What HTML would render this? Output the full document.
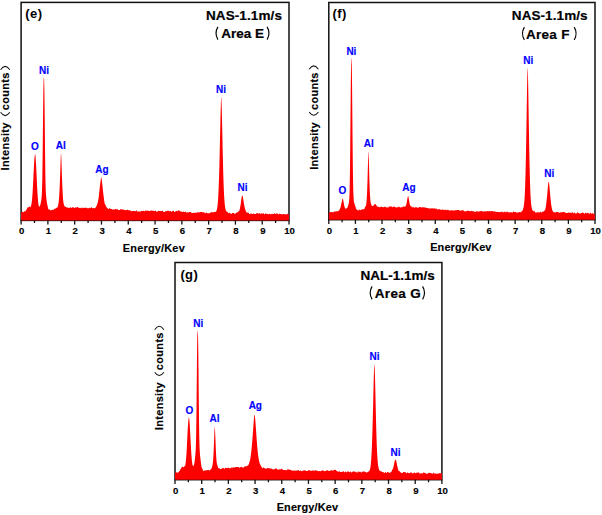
<!DOCTYPE html>
<html><head><meta charset="utf-8"><style>
html,body{margin:0;padding:0;background:#fff;}
svg{display:block;}
text{font-family:"Liberation Sans", sans-serif;font-weight:bold;fill:#000;stroke:#000;stroke-width:0.15px;}
.tk{font-size:9.6px;}
.xl{font-size:10.9px;}
.yl{font-size:11px;}
.pl{font-size:13px;stroke-width:0;letter-spacing:0.4px;}
.tt{font-size:13.5px;stroke-width:0.2px;}
.pk{font-size:10px;fill:#0000ff;stroke:#0000ff;}
</style></head><body>
<svg width="602" height="515" viewBox="0 0 602 515">
<rect width="602" height="515" fill="#fff"/>
<rect x="21.10" y="2.40" width="267.90" height="218.00" fill="none" stroke="#111" stroke-width="1.5"/>
<path d="M21.10,220.40 L21.10,212.09 L21.35,212.07 L21.60,212.06 L21.85,212.04 L22.10,211.81 L22.35,211.79 L22.60,211.77 L22.85,211.74 L23.10,212.31 L23.35,212.27 L23.60,212.22 L23.85,212.16 L24.10,211.39 L24.35,211.29 L24.60,211.17 L24.85,211.02 L25.10,211.39 L25.35,211.18 L25.60,210.92 L25.85,210.64 L26.10,210.11 L26.35,209.76 L26.60,209.39 L26.85,209.00 L27.10,208.25 L27.35,207.87 L27.60,207.53 L27.85,207.22 L28.10,207.50 L28.35,207.30 L28.60,207.17 L28.85,207.09 L29.10,206.51 L29.35,206.54 L29.60,206.60 L29.85,206.66 L30.10,207.16 L30.35,207.11 L30.60,206.94 L30.85,206.58 L31.10,205.53 L31.35,204.58 L31.60,203.21 L31.85,201.34 L32.10,198.92 L32.35,195.85 L32.60,192.14 L32.85,187.83 L33.10,183.41 L33.35,178.24 L33.60,172.94 L33.85,167.78 L34.10,163.55 L34.35,159.59 L34.60,156.66 L34.85,154.96 L35.10,153.79 L35.35,154.84 L35.60,157.21 L35.85,160.70 L36.10,165.20 L36.35,170.17 L36.60,175.42 L36.85,180.67 L37.10,186.16 L37.35,190.73 L37.60,194.74 L37.85,198.13 L38.10,201.27 L38.35,203.42 L38.60,205.01 L38.85,206.11 L39.10,206.35 L39.35,206.65 L39.60,206.62 L39.85,206.29 L40.10,205.48 L40.35,204.63 L40.60,203.52 L40.85,202.17 L41.10,201.29 L41.35,199.48 L41.60,197.31 L41.85,194.17 L42.10,187.45 L42.35,176.87 L42.60,159.25 L42.85,135.44 L43.10,111.22 L43.35,91.08 L43.60,80.02 L43.85,77.29 L44.10,78.39 L44.35,87.84 L44.60,106.62 L44.85,131.41 L45.10,155.74 L45.35,174.64 L45.60,186.37 L45.85,192.69 L46.10,196.12 L46.35,198.47 L46.60,200.40 L46.85,202.10 L47.10,203.83 L47.35,205.12 L47.60,206.21 L47.85,207.11 L48.10,208.45 L48.35,209.02 L48.60,209.45 L48.85,209.78 L49.10,209.26 L49.35,209.44 L49.60,209.56 L49.85,209.64 L50.10,210.16 L50.35,210.17 L50.60,210.16 L50.85,210.15 L51.10,210.19 L51.35,210.16 L51.60,210.13 L51.85,210.10 L52.10,209.74 L52.35,209.71 L52.60,209.67 L52.85,209.63 L53.10,209.80 L53.35,209.75 L53.60,209.71 L53.85,209.65 L54.10,209.01 L54.35,208.95 L54.60,208.87 L54.85,208.79 L55.10,208.69 L55.35,208.57 L55.60,208.44 L55.85,208.29 L56.10,208.28 L56.35,208.08 L56.60,207.84 L56.85,207.57 L57.10,207.81 L57.35,207.42 L57.60,206.94 L57.85,206.33 L58.10,205.22 L58.35,204.12 L58.60,202.63 L58.85,200.57 L59.10,197.62 L59.35,193.86 L59.60,188.99 L59.85,182.95 L60.10,176.16 L60.35,168.39 L60.60,160.76 L60.85,154.62 L61.10,153.09 L61.35,158.17 L61.60,165.41 L61.85,173.17 L62.10,180.31 L62.35,186.66 L62.60,191.85 L62.85,195.89 L63.10,199.51 L63.35,201.73 L63.60,203.32 L63.85,204.45 L64.10,205.27 L64.35,205.75 L64.60,206.19 L64.85,206.53 L65.10,206.80 L65.35,206.47 L65.60,206.64 L65.85,206.78 L66.10,206.89 L66.35,207.37 L66.60,207.43 L66.85,207.47 L67.10,207.50 L67.35,207.46 L67.60,207.46 L67.85,207.46 L68.10,207.46 L68.35,207.90 L68.60,207.92 L68.85,207.93 L69.10,207.95 L69.35,207.78 L69.60,207.79 L69.85,207.79 L70.10,207.80 L70.35,207.27 L70.60,207.28 L70.85,207.28 L71.10,207.29 L71.35,208.12 L71.60,208.12 L71.85,208.13 L72.10,208.13 L72.35,207.10 L72.60,207.10 L72.85,207.11 L73.10,207.11 L73.35,207.47 L73.60,207.48 L73.85,207.48 L74.10,207.48 L74.35,207.90 L74.60,207.90 L74.85,207.90 L75.10,207.91 L75.35,207.18 L75.60,207.19 L75.85,207.19 L76.10,207.19 L76.35,207.60 L76.60,207.60 L76.85,207.61 L77.10,207.61 L77.35,207.07 L77.60,207.08 L77.85,207.08 L78.10,207.08 L78.35,207.84 L78.60,207.85 L78.85,207.85 L79.10,207.85 L79.35,207.97 L79.60,207.98 L79.85,207.98 L80.10,207.98 L80.35,207.76 L80.60,207.76 L80.85,207.76 L81.10,207.77 L81.35,208.13 L81.60,208.14 L81.85,208.14 L82.10,208.14 L82.35,207.47 L82.60,207.48 L82.85,207.48 L83.10,207.48 L83.35,207.94 L83.60,207.95 L83.85,207.95 L84.10,207.95 L84.35,207.84 L84.60,207.84 L84.85,207.84 L85.10,207.85 L85.35,207.83 L85.60,207.84 L85.85,207.84 L86.10,207.69 L86.35,207.70 L86.60,207.70 L86.85,207.70 L87.10,208.17 L87.35,208.17 L87.60,208.18 L87.85,208.18 L88.10,208.31 L88.35,208.31 L88.60,208.31 L88.85,208.32 L89.10,207.76 L89.35,207.76 L89.60,207.76 L89.85,207.77 L90.10,208.00 L90.35,208.01 L90.60,208.02 L90.85,208.03 L91.10,207.32 L91.35,207.33 L91.60,207.34 L91.85,207.35 L92.10,208.12 L92.35,208.13 L92.60,208.13 L92.85,208.13 L93.10,208.06 L93.35,208.06 L93.60,208.04 L93.85,208.02 L94.10,208.40 L94.35,208.36 L94.60,208.29 L94.85,208.21 L95.10,207.90 L95.35,207.76 L95.60,207.59 L95.85,207.36 L96.10,206.44 L96.35,206.09 L96.60,205.66 L96.85,205.14 L97.10,204.62 L97.35,203.86 L97.60,202.95 L97.85,201.88 L98.10,200.98 L98.35,199.55 L98.60,197.93 L98.85,196.12 L99.10,193.36 L99.35,191.20 L99.60,188.93 L99.85,186.57 L100.10,184.74 L100.35,182.46 L100.60,180.39 L100.85,178.67 L101.10,177.18 L101.35,177.36 L101.60,178.66 L101.85,180.49 L102.10,182.58 L102.35,184.91 L102.60,187.30 L102.85,189.67 L103.10,191.88 L103.35,194.03 L103.60,196.01 L103.85,197.80 L104.10,200.26 L104.35,201.67 L104.60,202.91 L104.85,203.97 L105.10,204.10 L105.35,204.86 L105.60,205.50 L105.85,206.03 L106.10,206.61 L106.35,206.97 L106.60,207.26 L106.85,207.50 L107.10,207.87 L107.35,208.02 L107.60,208.15 L107.85,208.25 L108.10,208.91 L108.35,208.98 L108.60,209.03 L108.85,209.08 L109.10,208.17 L109.35,208.20 L109.60,208.23 L109.85,208.25 L110.10,208.72 L110.35,208.75 L110.60,208.77 L110.85,208.80 L111.10,208.94 L111.35,208.96 L111.60,208.98 L111.85,209.00 L112.10,209.43 L112.35,209.45 L112.60,209.47 L112.85,209.49 L113.10,209.43 L113.35,209.45 L113.60,209.47 L113.85,209.49 L114.10,209.56 L114.35,209.58 L114.60,209.60 L114.85,209.62 L115.10,208.94 L115.35,208.96 L115.60,208.98 L115.85,209.00 L116.10,209.19 L116.35,209.21 L116.60,209.23 L116.85,209.25 L117.10,209.20 L117.35,209.22 L117.60,209.24 L117.85,209.26 L118.10,209.91 L118.35,209.93 L118.60,209.95 L118.85,209.97 L119.10,210.08 L119.35,210.10 L119.60,210.12 L119.85,210.14 L120.10,209.19 L120.35,209.21 L120.60,209.24 L120.85,209.26 L121.10,209.31 L121.35,209.34 L121.60,209.36 L121.85,209.38 L122.10,209.47 L122.35,209.50 L122.60,209.52 L122.85,209.54 L123.10,209.57 L123.35,209.59 L123.60,209.62 L123.85,209.64 L124.10,209.96 L124.35,209.99 L124.60,210.01 L124.85,210.03 L125.10,210.18 L125.35,210.21 L125.60,210.23 L125.85,210.25 L126.10,209.88 L126.35,209.91 L126.60,209.93 L126.85,209.95 L127.10,209.67 L127.35,209.69 L127.60,209.71 L127.85,209.74 L128.10,210.26 L128.35,210.28 L128.60,210.31 L128.85,210.33 L129.10,210.29 L129.35,210.32 L129.60,210.34 L129.85,210.36 L130.10,210.62 L130.35,210.65 L130.60,210.67 L130.85,210.69 L131.10,211.18 L131.35,211.20 L131.60,211.23 L131.85,211.25 L132.10,210.96 L132.35,210.98 L132.60,211.00 L132.85,211.03 L133.10,210.84 L133.35,210.86 L133.60,210.89 L133.85,210.91 L134.10,211.06 L134.35,211.08 L134.60,211.10 L134.85,211.13 L135.10,211.21 L135.35,211.22 L135.60,211.22 L135.85,211.22 L136.10,210.48 L136.35,210.48 L136.60,210.49 L136.85,210.49 L137.10,211.51 L137.35,211.51 L137.60,211.51 L137.85,211.52 L138.10,211.38 L138.35,211.38 L138.60,211.38 L138.85,211.39 L139.10,211.50 L139.35,211.51 L139.60,211.51 L139.85,211.51 L140.10,211.43 L140.35,211.43 L140.60,211.43 L140.85,211.44 L141.10,210.95 L141.35,210.96 L141.60,210.96 L141.85,210.96 L142.10,210.97 L142.35,210.98 L142.60,210.98 L142.85,210.98 L143.10,210.63 L143.35,210.64 L143.60,210.64 L143.85,210.64 L144.10,211.28 L144.35,211.29 L144.60,211.29 L144.85,211.29 L145.10,210.61 L145.35,210.61 L145.60,210.62 L145.85,210.62 L146.10,210.63 L146.35,210.63 L146.60,210.64 L146.85,210.64 L147.10,210.81 L147.35,210.82 L147.60,210.82 L147.85,210.82 L148.10,210.77 L148.35,210.77 L148.60,210.78 L148.85,210.78 L149.10,211.00 L149.35,211.00 L149.60,211.00 L149.85,211.01 L150.10,210.66 L150.35,210.67 L150.60,210.67 L150.85,210.67 L151.10,210.61 L151.35,210.61 L151.60,210.61 L151.85,210.61 L152.10,210.80 L152.35,210.80 L152.60,210.80 L152.85,210.80 L153.10,210.75 L153.35,210.75 L153.60,210.75 L153.85,210.75 L154.10,211.07 L154.35,211.07 L154.60,211.07 L154.85,211.07 L155.10,210.67 L155.35,210.67 L155.60,210.67 L155.85,210.68 L156.10,211.70 L156.35,211.70 L156.60,211.70 L156.85,211.70 L157.10,211.39 L157.35,211.39 L157.60,211.40 L157.85,211.40 L158.10,210.84 L158.35,210.84 L158.60,210.84 L158.85,210.85 L159.10,210.97 L159.35,210.97 L159.60,210.98 L159.85,210.98 L160.10,211.09 L160.35,211.10 L160.60,211.10 L160.85,211.10 L161.10,211.12 L161.35,211.12 L161.60,211.13 L161.85,211.13 L162.10,210.84 L162.35,210.84 L162.60,210.84 L162.85,210.85 L163.10,211.72 L163.35,211.72 L163.60,211.72 L163.85,211.73 L164.10,211.90 L164.35,211.90 L164.60,211.90 L164.85,211.91 L165.10,211.28 L165.35,211.28 L165.60,211.28 L165.85,211.28 L166.10,211.30 L166.35,211.31 L166.60,211.31 L166.85,211.31 L167.10,210.83 L167.35,210.84 L167.60,210.84 L167.85,210.84 L168.10,210.86 L168.35,210.86 L168.60,210.87 L168.85,210.87 L169.10,211.16 L169.35,211.16 L169.60,211.16 L169.85,211.16 L170.10,211.07 L170.35,211.07 L170.60,211.08 L170.85,211.08 L171.10,211.76 L171.35,211.76 L171.60,211.76 L171.85,211.76 L172.10,210.96 L172.35,210.97 L172.60,210.97 L172.85,210.97 L173.10,210.81 L173.35,210.81 L173.60,210.81 L173.85,210.81 L174.10,211.93 L174.35,211.93 L174.60,211.93 L174.85,211.93 L175.10,211.43 L175.35,211.43 L175.60,211.43 L175.85,211.43 L176.10,210.96 L176.35,210.91 L176.60,210.86 L176.85,210.81 L177.10,211.23 L177.35,211.18 L177.60,211.13 L177.85,211.08 L178.10,210.41 L178.35,210.36 L178.60,210.31 L178.85,210.26 L179.10,210.81 L179.35,210.76 L179.60,210.71 L179.85,210.66 L180.10,211.21 L180.35,211.31 L180.60,211.41 L180.85,211.51 L181.10,211.48 L181.35,211.58 L181.60,211.68 L181.85,211.78 L182.10,211.68 L182.35,211.78 L182.60,211.88 L182.85,211.98 L183.10,211.55 L183.35,211.65 L183.60,211.75 L183.85,211.85 L184.10,212.04 L184.35,212.05 L184.60,212.05 L184.85,212.06 L185.10,211.82 L185.35,211.83 L185.60,211.83 L185.85,211.84 L186.10,212.57 L186.35,212.57 L186.60,212.58 L186.85,212.58 L187.10,212.30 L187.35,212.30 L187.60,212.31 L187.85,212.31 L188.10,212.61 L188.35,212.62 L188.60,212.62 L188.85,212.63 L189.10,212.09 L189.35,212.10 L189.60,212.10 L189.85,212.11 L190.10,211.99 L190.35,211.99 L190.60,212.00 L190.85,212.00 L191.10,212.71 L191.35,212.72 L191.60,212.72 L191.85,212.73 L192.10,212.94 L192.35,212.94 L192.60,212.95 L192.85,212.95 L193.10,212.80 L193.35,212.80 L193.60,212.81 L193.85,212.81 L194.10,212.76 L194.35,212.77 L194.60,212.77 L194.85,212.78 L195.10,212.80 L195.35,212.80 L195.60,212.81 L195.85,212.81 L196.10,212.72 L196.35,212.73 L196.60,212.73 L196.85,212.74 L197.10,212.13 L197.35,212.13 L197.60,212.14 L197.85,212.14 L198.10,212.49 L198.35,212.50 L198.60,212.50 L198.85,212.51 L199.10,212.32 L199.35,212.32 L199.60,212.33 L199.85,212.33 L200.10,211.95 L200.35,211.95 L200.60,211.96 L200.85,211.96 L201.10,211.96 L201.35,211.97 L201.60,211.97 L201.85,211.98 L202.10,212.29 L202.35,212.29 L202.60,212.30 L202.85,212.30 L203.10,212.28 L203.35,212.29 L203.60,212.29 L203.85,212.30 L204.10,212.82 L204.35,212.82 L204.60,212.83 L204.85,212.83 L205.10,213.16 L205.35,213.16 L205.60,213.17 L205.85,213.17 L206.10,212.56 L206.35,212.57 L206.60,212.57 L206.85,212.58 L207.10,213.17 L207.35,213.18 L207.60,213.18 L207.85,213.19 L208.10,213.25 L208.35,213.26 L208.60,213.26 L208.85,213.27 L209.10,213.23 L209.35,213.23 L209.60,213.24 L209.85,213.24 L210.10,212.54 L210.35,212.54 L210.60,212.54 L210.85,212.54 L211.10,212.37 L211.35,212.37 L211.60,212.36 L211.85,212.36 L212.10,212.36 L212.35,212.35 L212.60,212.33 L212.85,212.31 L213.10,212.25 L213.35,212.22 L213.60,212.18 L213.85,212.13 L214.10,212.07 L214.35,212.00 L214.60,211.90 L214.85,211.79 L215.10,212.15 L215.35,211.98 L215.60,211.76 L215.85,211.48 L216.10,211.45 L216.35,210.98 L216.60,210.36 L216.85,209.53 L217.10,208.35 L217.35,206.88 L217.60,204.94 L217.85,202.41 L218.10,198.70 L218.35,194.53 L218.60,189.33 L218.85,182.97 L219.10,175.58 L219.35,166.74 L219.60,156.75 L219.85,145.85 L220.10,134.62 L220.35,123.28 L220.60,112.77 L220.85,104.05 L221.10,97.52 L221.35,97.64 L221.60,103.43 L221.85,112.22 L222.10,123.47 L222.35,134.84 L222.60,146.25 L222.85,157.14 L223.10,167.40 L223.35,176.22 L223.60,183.79 L223.85,190.12 L224.10,195.15 L224.35,199.30 L224.60,202.56 L224.85,205.09 L225.10,206.98 L225.35,208.45 L225.60,209.55 L225.85,210.38 L226.10,210.69 L226.35,211.16 L226.60,211.53 L226.85,211.82 L227.10,211.69 L227.35,211.87 L227.60,212.02 L227.85,212.14 L228.10,212.98 L228.35,213.06 L228.60,213.13 L228.85,213.19 L229.10,212.70 L229.35,212.74 L229.60,212.77 L229.85,212.80 L230.10,213.39 L230.35,213.41 L230.60,213.43 L230.85,213.44 L231.10,213.66 L231.35,213.67 L231.60,213.68 L231.85,213.69 L232.10,213.01 L232.35,213.01 L232.60,213.02 L232.85,213.02 L233.10,213.03 L233.35,213.04 L233.60,213.04 L233.85,213.04 L234.10,213.70 L234.35,213.70 L234.60,213.69 L234.85,213.69 L235.10,213.42 L235.35,213.41 L235.60,213.40 L235.85,213.38 L236.10,212.70 L236.35,212.67 L236.60,212.63 L236.85,212.58 L237.10,212.46 L237.35,212.37 L237.60,212.25 L237.85,212.09 L238.10,211.91 L238.35,211.64 L238.60,211.29 L238.85,210.86 L239.10,211.21 L239.35,210.54 L239.60,209.72 L239.85,208.75 L240.10,207.49 L240.35,206.19 L240.60,204.75 L240.85,203.19 L241.10,200.77 L241.35,199.13 L241.60,197.58 L241.85,196.21 L242.10,195.97 L242.35,195.41 L242.60,195.76 L242.85,196.70 L243.10,198.19 L243.35,199.72 L243.60,201.35 L243.85,203.00 L244.10,204.21 L244.35,205.70 L244.60,207.05 L244.85,208.24 L245.10,208.90 L245.35,209.77 L245.60,210.50 L245.85,211.09 L246.10,211.81 L246.35,212.19 L246.60,212.48 L246.85,212.72 L247.10,212.40 L247.35,212.54 L247.60,212.65 L247.85,212.73 L248.10,212.66 L248.35,212.71 L248.60,212.75 L248.85,212.78 L249.10,213.96 L249.35,213.98 L249.60,214.00 L249.85,214.02 L250.10,213.65 L250.35,213.66 L250.60,213.67 L250.85,213.68 L251.10,213.54 L251.35,213.55 L251.60,213.55 L251.85,213.56 L252.10,214.05 L252.35,214.06 L252.60,214.06 L252.85,214.07 L253.10,213.47 L253.35,213.48 L253.60,213.48 L253.85,213.49 L254.10,214.02 L254.35,214.02 L254.60,214.03 L254.85,214.03 L255.10,213.98 L255.35,213.99 L255.60,213.99 L255.85,214.00 L256.10,213.26 L256.35,213.27 L256.60,213.27 L256.85,213.28 L257.10,213.33 L257.35,213.33 L257.60,213.34 L257.85,213.34 L258.10,213.40 L258.35,213.40 L258.60,213.41 L258.85,213.41 L259.10,213.35 L259.35,213.36 L259.60,213.36 L259.85,213.37 L260.10,213.79 L260.35,213.79 L260.60,213.79 L260.85,213.80 L261.10,213.41 L261.35,213.41 L261.60,213.42 L261.85,213.42 L262.10,213.62 L262.35,213.62 L262.60,213.63 L262.85,213.63 L263.10,213.29 L263.35,213.30 L263.60,213.30 L263.85,213.31 L264.10,214.25 L264.35,214.25 L264.60,214.25 L264.85,214.26 L265.10,213.60 L265.35,213.60 L265.60,213.60 L265.85,213.61 L266.10,213.74 L266.35,213.74 L266.60,213.75 L266.85,213.75 L267.10,213.91 L267.35,213.91 L267.60,213.92 L267.85,213.92 L268.10,214.31 L268.35,214.31 L268.60,214.32 L268.85,214.32 L269.10,213.75 L269.35,213.75 L269.60,213.76 L269.85,213.76 L270.10,214.36 L270.35,214.37 L270.60,214.37 L270.85,214.38 L271.10,213.88 L271.35,213.89 L271.60,213.89 L271.85,213.89 L272.10,213.93 L272.35,213.94 L272.60,213.94 L272.85,213.95 L273.10,213.94 L273.35,213.95 L273.60,213.95 L273.85,213.96 L274.10,213.36 L274.35,213.36 L274.60,213.36 L274.85,213.37 L275.10,213.88 L275.35,213.88 L275.60,213.89 L275.85,213.89 L276.10,213.59 L276.35,213.59 L276.60,213.60 L276.85,213.60 L277.10,213.39 L277.35,213.40 L277.60,213.40 L277.85,213.40 L278.10,214.36 L278.35,214.37 L278.60,214.37 L278.85,214.38 L279.10,213.63 L279.35,213.63 L279.60,213.64 L279.85,213.64 L280.10,214.01 L280.35,214.01 L280.60,214.02 L280.85,214.02 L281.10,214.33 L281.35,214.33 L281.60,214.34 L281.85,214.34 L282.10,214.14 L282.35,214.15 L282.60,214.15 L282.85,214.16 L283.10,213.89 L283.35,213.89 L283.60,213.89 L283.85,213.90 L284.10,214.13 L284.35,214.14 L284.60,214.14 L284.85,214.15 L285.10,214.20 L285.35,214.20 L285.60,214.21 L285.85,214.21 L286.10,214.49 L286.35,214.49 L286.60,214.50 L286.85,214.50 L287.10,213.69 L287.35,213.70 L287.60,213.70 L287.85,213.71 L288.10,214.26 L288.35,214.26 L288.60,214.27 L288.85,214.27 L289.00,220.40 Z" fill="#ff0000"/>
<line x1="21.10" y1="220.40" x2="21.10" y2="224.60" stroke="#111" stroke-width="1.3"/>
<line x1="34.50" y1="220.40" x2="34.50" y2="223.00" stroke="#111" stroke-width="1.3"/>
<line x1="47.89" y1="220.40" x2="47.89" y2="224.60" stroke="#111" stroke-width="1.3"/>
<line x1="61.29" y1="220.40" x2="61.29" y2="223.00" stroke="#111" stroke-width="1.3"/>
<line x1="74.68" y1="220.40" x2="74.68" y2="224.60" stroke="#111" stroke-width="1.3"/>
<line x1="88.07" y1="220.40" x2="88.07" y2="223.00" stroke="#111" stroke-width="1.3"/>
<line x1="101.47" y1="220.40" x2="101.47" y2="224.60" stroke="#111" stroke-width="1.3"/>
<line x1="114.87" y1="220.40" x2="114.87" y2="223.00" stroke="#111" stroke-width="1.3"/>
<line x1="128.26" y1="220.40" x2="128.26" y2="224.60" stroke="#111" stroke-width="1.3"/>
<line x1="141.66" y1="220.40" x2="141.66" y2="223.00" stroke="#111" stroke-width="1.3"/>
<line x1="155.05" y1="220.40" x2="155.05" y2="224.60" stroke="#111" stroke-width="1.3"/>
<line x1="168.44" y1="220.40" x2="168.44" y2="223.00" stroke="#111" stroke-width="1.3"/>
<line x1="181.84" y1="220.40" x2="181.84" y2="224.60" stroke="#111" stroke-width="1.3"/>
<line x1="195.23" y1="220.40" x2="195.23" y2="223.00" stroke="#111" stroke-width="1.3"/>
<line x1="208.63" y1="220.40" x2="208.63" y2="224.60" stroke="#111" stroke-width="1.3"/>
<line x1="222.02" y1="220.40" x2="222.02" y2="223.00" stroke="#111" stroke-width="1.3"/>
<line x1="235.42" y1="220.40" x2="235.42" y2="224.60" stroke="#111" stroke-width="1.3"/>
<line x1="248.81" y1="220.40" x2="248.81" y2="223.00" stroke="#111" stroke-width="1.3"/>
<line x1="262.21" y1="220.40" x2="262.21" y2="224.60" stroke="#111" stroke-width="1.3"/>
<line x1="275.61" y1="220.40" x2="275.61" y2="223.00" stroke="#111" stroke-width="1.3"/>
<line x1="289.00" y1="220.40" x2="289.00" y2="224.60" stroke="#111" stroke-width="1.3"/>
<text x="21.70" y="234.20" text-anchor="middle" class="tk">0</text>
<text x="48.49" y="234.20" text-anchor="middle" class="tk">1</text>
<text x="75.28" y="234.20" text-anchor="middle" class="tk">2</text>
<text x="102.07" y="234.20" text-anchor="middle" class="tk">3</text>
<text x="128.86" y="234.20" text-anchor="middle" class="tk">4</text>
<text x="155.65" y="234.20" text-anchor="middle" class="tk">5</text>
<text x="182.44" y="234.20" text-anchor="middle" class="tk">6</text>
<text x="209.23" y="234.20" text-anchor="middle" class="tk">7</text>
<text x="236.02" y="234.20" text-anchor="middle" class="tk">8</text>
<text x="262.81" y="234.20" text-anchor="middle" class="tk">9</text>
<text x="289.60" y="234.20" text-anchor="middle" class="tk">10</text>
<text x="122.80" y="251.60" class="xl" textLength="61.90" lengthAdjust="spacing">Energy/Kev</text>
<text transform="translate(9.20,170.40) rotate(-90)" class="yl" textLength="47.80" lengthAdjust="spacing">Intensity</text>
<text transform="translate(9.20,110.30) rotate(-90)" class="yl" textLength="37.70" lengthAdjust="spacing">counts</text>
<path d="M0.60,112.30 Q5.20,118.93 9.80,112.30" fill="none" stroke="#111" stroke-width="1.05"/>
<path d="M0.60,69.70 Q5.20,63.07 9.80,69.70" fill="none" stroke="#111" stroke-width="1.05"/>
<text x="25.30" y="18.40" class="pl">(e)</text>
<text x="206.00" y="19.90" class="tt" textLength="75.90" lengthAdjust="spacing">NAS-1.1m/s</text>
<text x="221.30" y="38.40" class="tt" textLength="42.70" lengthAdjust="spacing">Area E</text>
<path d="M217.90,26.90 Q214.10,33.25 217.90,39.60" fill="none" stroke="#000" stroke-width="1.15"/>
<path d="M267.10,26.90 Q270.90,33.25 267.10,39.60" fill="none" stroke="#000" stroke-width="1.15"/>
<text x="34.90" y="150.20" text-anchor="middle" class="pk">O</text>
<text x="44.10" y="73.50" text-anchor="middle" class="pk">Ni</text>
<text x="60.80" y="149.10" text-anchor="middle" class="pk">Al</text>
<text x="102.00" y="173.10" text-anchor="middle" class="pk">Ag</text>
<text x="221.10" y="92.60" text-anchor="middle" class="pk">Ni</text>
<text x="242.50" y="191.20" text-anchor="middle" class="pk">Ni</text>
<rect x="328.80" y="2.50" width="266.20" height="217.20" fill="none" stroke="#111" stroke-width="1.5"/>
<path d="M328.80,219.70 L328.80,212.63 L329.05,212.59 L329.30,212.56 L329.55,212.53 L329.80,212.18 L330.05,212.15 L330.30,212.12 L330.55,212.08 L330.80,212.12 L331.05,212.08 L331.30,212.05 L331.55,212.02 L331.80,212.22 L332.05,212.19 L332.30,212.16 L332.55,212.13 L332.80,212.28 L333.05,212.25 L333.30,212.21 L333.55,212.18 L333.80,211.58 L334.05,211.55 L334.30,211.51 L334.55,211.48 L334.80,211.65 L335.05,211.61 L335.30,211.59 L335.55,211.57 L335.80,211.42 L336.05,211.39 L336.30,211.36 L336.55,211.32 L336.80,211.29 L337.05,211.25 L337.30,211.19 L337.55,211.13 L337.80,211.27 L338.05,211.18 L338.30,211.07 L338.55,210.94 L338.80,210.48 L339.05,210.26 L339.30,209.99 L339.55,209.65 L339.80,209.31 L340.05,208.78 L340.30,208.12 L340.55,207.32 L340.80,206.31 L341.05,205.21 L341.30,203.98 L341.55,202.65 L341.80,201.83 L342.05,200.49 L342.30,199.33 L342.55,198.54 L342.80,198.38 L343.05,199.26 L343.30,200.44 L343.55,201.76 L343.80,203.30 L344.05,204.56 L344.30,205.69 L344.55,206.67 L344.80,207.57 L345.05,208.21 L345.30,208.70 L345.55,209.03 L345.80,208.41 L346.05,208.48 L346.30,208.43 L346.55,208.26 L346.80,208.35 L347.05,207.97 L347.30,207.50 L347.55,206.92 L347.80,206.71 L348.05,205.95 L348.30,205.11 L348.55,204.17 L348.80,202.93 L349.05,201.35 L349.30,198.49 L349.55,192.80 L349.80,181.17 L350.05,163.38 L350.30,138.70 L350.55,110.46 L350.80,84.45 L351.05,66.32 L351.30,58.49 L351.55,58.44 L351.80,66.46 L352.05,84.41 L352.30,110.30 L352.55,138.53 L352.80,162.84 L353.05,180.72 L353.30,191.59 L353.55,197.34 L353.80,200.41 L354.05,202.00 L354.30,203.11 L354.55,204.05 L354.80,204.71 L355.05,205.49 L355.30,206.19 L355.55,206.81 L355.80,208.07 L356.05,208.53 L356.30,208.93 L356.55,209.25 L356.80,209.66 L357.05,209.87 L357.30,210.02 L357.55,210.13 L357.80,210.35 L358.05,210.40 L358.30,210.44 L358.55,210.46 L358.80,209.57 L359.05,209.56 L359.30,209.55 L359.55,209.53 L359.80,210.18 L360.05,210.15 L360.30,210.12 L360.55,210.09 L360.80,209.99 L361.05,209.94 L361.30,209.90 L361.55,209.85 L361.80,209.17 L362.05,209.11 L362.30,209.04 L362.55,208.95 L362.80,209.75 L363.05,209.64 L363.30,209.51 L363.55,209.37 L363.80,209.31 L364.05,209.12 L364.30,208.91 L364.55,208.66 L364.80,207.48 L365.05,207.15 L365.30,206.72 L365.55,206.16 L365.80,206.29 L366.05,205.23 L366.30,203.68 L366.55,201.41 L366.80,197.45 L367.05,192.85 L367.30,186.68 L367.55,178.91 L367.80,170.01 L368.05,160.73 L368.30,153.01 L368.55,151.37 L368.80,158.50 L369.05,167.44 L369.30,176.57 L369.55,184.67 L369.80,191.05 L370.05,196.02 L370.30,199.57 L370.55,202.01 L370.80,202.83 L371.05,203.90 L371.30,204.59 L371.55,205.04 L371.80,205.65 L372.05,205.83 L372.30,205.95 L372.55,205.98 L372.80,206.04 L373.05,205.94 L373.30,205.77 L373.55,205.55 L373.80,205.09 L374.05,204.84 L374.30,204.60 L374.55,204.40 L374.80,204.09 L375.05,204.04 L375.30,204.07 L375.55,204.18 L375.80,204.52 L376.05,204.78 L376.30,205.07 L376.55,205.39 L376.80,206.18 L377.05,206.47 L377.30,206.73 L377.55,206.95 L377.80,206.28 L378.05,206.41 L378.30,206.51 L378.55,206.57 L378.80,207.25 L379.05,207.27 L379.30,207.28 L379.55,207.28 L379.80,207.13 L380.05,207.12 L380.30,207.12 L380.55,207.11 L380.80,206.60 L381.05,206.59 L381.30,206.58 L381.55,206.58 L381.80,206.94 L382.05,206.94 L382.30,206.93 L382.55,206.92 L382.80,207.26 L383.05,207.26 L383.30,207.25 L383.55,207.24 L383.80,207.10 L384.05,207.09 L384.30,207.09 L384.55,207.08 L384.80,206.53 L385.05,206.53 L385.30,206.52 L385.55,206.51 L385.80,207.61 L386.05,207.60 L386.30,207.59 L386.55,207.59 L386.80,207.34 L387.05,207.33 L387.30,207.33 L387.55,207.32 L387.80,207.53 L388.05,207.52 L388.30,207.52 L388.55,207.51 L388.80,206.46 L389.05,206.45 L389.30,206.45 L389.55,206.44 L389.80,206.62 L390.05,206.62 L390.30,206.62 L390.55,206.63 L390.80,206.36 L391.05,206.37 L391.30,206.37 L391.55,206.37 L391.80,207.26 L392.05,207.27 L392.30,207.27 L392.55,207.28 L392.80,206.67 L393.05,206.68 L393.30,206.68 L393.55,206.68 L393.80,206.52 L394.05,206.52 L394.30,206.53 L394.55,206.53 L394.80,206.89 L395.05,206.89 L395.30,206.90 L395.55,206.90 L395.80,207.49 L396.05,207.49 L396.30,207.50 L396.55,207.50 L396.80,207.40 L397.05,207.40 L397.30,207.40 L397.55,207.41 L397.80,206.74 L398.05,206.74 L398.30,206.75 L398.55,206.75 L398.80,206.63 L399.05,206.63 L399.30,206.63 L399.55,206.64 L399.80,207.57 L400.05,207.57 L400.30,207.57 L400.55,207.58 L400.80,207.16 L401.05,207.17 L401.30,207.17 L401.55,207.17 L401.80,207.33 L402.05,207.33 L402.30,207.33 L402.55,207.33 L402.80,206.59 L403.05,206.58 L403.30,206.56 L403.55,206.54 L403.80,206.47 L404.05,206.43 L404.30,206.38 L404.55,206.31 L404.80,206.96 L405.05,206.82 L405.30,206.61 L405.55,206.34 L405.80,205.64 L406.05,205.11 L406.30,204.41 L406.55,203.50 L406.80,201.94 L407.05,200.59 L407.30,199.06 L407.55,197.46 L407.80,197.04 L408.05,196.04 L408.30,196.34 L408.55,197.58 L408.80,198.76 L409.05,200.36 L409.30,201.84 L409.55,203.12 L409.80,204.38 L410.05,205.22 L410.30,205.85 L410.55,206.33 L410.80,205.82 L411.05,206.07 L411.30,206.26 L411.55,206.39 L411.80,207.42 L412.05,207.49 L412.30,207.55 L412.55,207.59 L412.80,206.68 L413.05,206.70 L413.30,206.73 L413.55,206.74 L413.80,207.71 L414.05,207.72 L414.30,207.73 L414.55,207.74 L414.80,207.25 L415.05,207.26 L415.30,207.26 L415.55,207.27 L415.80,207.14 L416.05,207.14 L416.30,207.15 L416.55,207.15 L416.80,207.41 L417.05,207.41 L417.30,207.42 L417.55,207.42 L417.80,207.88 L418.05,207.88 L418.30,207.88 L418.55,207.89 L418.80,207.10 L419.05,207.11 L419.30,207.11 L419.55,207.11 L419.80,206.95 L420.05,206.96 L420.30,206.99 L420.55,207.01 L420.80,207.52 L421.05,207.54 L421.30,207.57 L421.55,207.60 L421.80,207.28 L422.05,207.30 L422.30,207.33 L422.55,207.35 L422.80,207.23 L423.05,207.25 L423.30,207.28 L423.55,207.30 L423.80,207.39 L424.05,207.42 L424.30,207.45 L424.55,207.47 L424.80,207.36 L425.05,207.39 L425.30,207.42 L425.55,207.44 L425.80,207.65 L426.05,207.68 L426.30,207.70 L426.55,207.73 L426.80,207.89 L427.05,207.91 L427.30,207.94 L427.55,207.97 L427.80,207.99 L428.05,208.01 L428.30,208.04 L428.55,208.06 L428.80,208.64 L429.05,208.66 L429.30,208.69 L429.55,208.71 L429.80,208.18 L430.05,208.20 L430.30,208.23 L430.55,208.26 L430.80,208.53 L431.05,208.56 L431.30,208.59 L431.55,208.61 L431.80,208.25 L432.05,208.28 L432.30,208.30 L432.55,208.33 L432.80,208.56 L433.05,208.59 L433.30,208.61 L433.55,208.64 L433.80,208.27 L434.05,208.30 L434.30,208.32 L434.55,208.35 L434.80,208.65 L435.05,208.68 L435.30,208.71 L435.55,208.73 L435.80,208.48 L436.05,208.50 L436.30,208.53 L436.55,208.56 L436.80,209.44 L437.05,209.47 L437.30,209.50 L437.55,209.52 L437.80,209.33 L438.05,209.36 L438.30,209.38 L438.55,209.41 L438.80,209.00 L439.05,209.03 L439.30,209.05 L439.55,209.08 L439.80,209.45 L440.05,209.47 L440.30,209.49 L440.55,209.50 L440.80,210.07 L441.05,210.08 L441.30,210.10 L441.55,210.11 L441.80,209.13 L442.05,209.14 L442.30,209.16 L442.55,209.17 L442.80,210.04 L443.05,210.06 L443.30,210.07 L443.55,210.08 L443.80,209.63 L444.05,209.65 L444.30,209.66 L444.55,209.68 L444.80,209.77 L445.05,209.78 L445.30,209.79 L445.55,209.81 L445.80,210.23 L446.05,210.24 L446.30,210.26 L446.55,210.27 L446.80,209.76 L447.05,209.77 L447.30,209.79 L447.55,209.80 L447.80,209.95 L448.05,209.96 L448.30,209.98 L448.55,209.99 L448.80,210.22 L449.05,210.24 L449.30,210.25 L449.55,210.27 L449.80,210.63 L450.05,210.65 L450.30,210.66 L450.55,210.68 L450.80,209.92 L451.05,209.94 L451.30,209.95 L451.55,209.97 L451.80,210.57 L452.05,210.58 L452.30,210.60 L452.55,210.61 L452.80,210.47 L453.05,210.49 L453.30,210.50 L453.55,210.52 L453.80,210.45 L454.05,210.46 L454.30,210.47 L454.55,210.49 L454.80,210.22 L455.05,210.24 L455.30,210.25 L455.55,210.27 L455.80,210.21 L456.05,210.23 L456.30,210.24 L456.55,210.25 L456.80,209.92 L457.05,209.93 L457.30,209.95 L457.55,209.96 L457.80,210.06 L458.05,210.08 L458.30,210.09 L458.55,210.11 L458.80,210.05 L459.05,210.06 L459.30,210.08 L459.55,210.09 L459.80,210.91 L460.05,210.93 L460.30,210.94 L460.55,210.95 L460.80,210.39 L461.05,210.40 L461.30,210.41 L461.55,210.43 L461.80,210.33 L462.05,210.35 L462.30,210.36 L462.55,210.37 L462.80,210.29 L463.05,210.31 L463.30,210.32 L463.55,210.34 L463.80,211.26 L464.05,211.27 L464.30,211.29 L464.55,211.30 L464.80,211.35 L465.05,211.36 L465.30,211.38 L465.55,211.39 L465.80,211.17 L466.05,211.18 L466.30,211.19 L466.55,211.21 L466.80,210.76 L467.05,210.77 L467.30,210.79 L467.55,210.80 L467.80,210.77 L468.05,210.78 L468.30,210.79 L468.55,210.81 L468.80,210.88 L469.05,210.90 L469.30,210.91 L469.55,210.93 L469.80,211.14 L470.05,211.15 L470.30,211.16 L470.55,211.16 L470.80,210.81 L471.05,210.81 L471.30,210.82 L471.55,210.82 L471.80,211.17 L472.05,211.18 L472.30,211.18 L472.55,211.19 L472.80,210.97 L473.05,210.98 L473.30,210.98 L473.55,210.99 L473.80,211.83 L474.05,211.84 L474.30,211.84 L474.55,211.85 L474.80,211.86 L475.05,211.87 L475.30,211.87 L475.55,211.88 L475.80,211.37 L476.05,211.38 L476.30,211.38 L476.55,211.39 L476.80,211.03 L477.05,211.03 L477.30,211.04 L477.55,211.04 L477.80,211.91 L478.05,211.92 L478.30,211.92 L478.55,211.93 L478.80,211.15 L479.05,211.15 L479.30,211.16 L479.55,211.16 L479.80,211.22 L480.05,211.23 L480.30,211.23 L480.55,211.24 L480.80,210.82 L481.05,210.82 L481.30,210.83 L481.55,210.83 L481.80,211.29 L482.05,211.30 L482.30,211.30 L482.55,211.31 L482.80,211.43 L483.05,211.43 L483.30,211.44 L483.55,211.44 L483.80,211.48 L484.05,211.48 L484.30,211.49 L484.55,211.49 L484.80,211.14 L485.05,211.14 L485.30,211.15 L485.55,211.15 L485.80,211.52 L486.05,211.53 L486.30,211.53 L486.55,211.54 L486.80,210.94 L487.05,210.95 L487.30,210.95 L487.55,210.96 L487.80,211.27 L488.05,211.28 L488.30,211.28 L488.55,211.29 L488.80,211.08 L489.05,211.09 L489.30,211.09 L489.55,211.10 L489.80,211.48 L490.05,211.48 L490.30,211.49 L490.55,211.49 L490.80,211.07 L491.05,211.07 L491.30,211.08 L491.55,211.08 L491.80,211.06 L492.05,211.07 L492.30,211.07 L492.55,211.08 L492.80,211.42 L493.05,211.43 L493.30,211.43 L493.55,211.44 L493.80,211.36 L494.05,211.36 L494.30,211.37 L494.55,211.37 L494.80,211.80 L495.05,211.80 L495.30,211.81 L495.55,211.81 L495.80,211.75 L496.05,211.76 L496.30,211.76 L496.55,211.77 L496.80,212.04 L497.05,212.04 L497.30,212.05 L497.55,212.05 L497.80,211.95 L498.05,211.95 L498.30,211.96 L498.55,211.96 L498.80,212.04 L499.05,212.04 L499.30,212.05 L499.55,212.05 L499.80,212.25 L500.05,212.26 L500.30,212.26 L500.55,212.27 L500.80,211.68 L501.05,211.69 L501.30,211.69 L501.55,211.70 L501.80,211.63 L502.05,211.63 L502.30,211.64 L502.55,211.64 L502.80,212.44 L503.05,212.44 L503.30,212.45 L503.55,212.45 L503.80,211.46 L504.05,211.46 L504.30,211.47 L504.55,211.47 L504.80,212.16 L505.05,212.17 L505.30,212.17 L505.55,212.18 L505.80,212.09 L506.05,212.09 L506.30,212.10 L506.55,212.10 L506.80,211.39 L507.05,211.39 L507.30,211.40 L507.55,211.40 L507.80,212.36 L508.05,212.36 L508.30,212.37 L508.55,212.37 L508.80,212.45 L509.05,212.45 L509.30,212.46 L509.55,212.46 L509.80,212.15 L510.05,212.15 L510.30,212.16 L510.55,212.16 L510.80,212.29 L511.05,212.29 L511.30,212.29 L511.55,212.30 L511.80,212.39 L512.05,212.40 L512.30,212.40 L512.55,212.40 L512.80,212.40 L513.05,211.60 L513.30,211.60 L513.55,211.60 L513.80,211.61 L514.05,212.07 L514.30,212.07 L514.55,212.07 L514.80,212.08 L515.05,212.06 L515.30,212.06 L515.55,212.06 L515.80,212.06 L516.05,212.46 L516.30,212.46 L516.55,212.46 L516.80,212.47 L517.05,212.43 L517.30,212.43 L517.55,212.43 L517.80,212.43 L518.05,212.45 L518.30,212.44 L518.55,212.43 L518.80,212.42 L519.05,212.11 L519.30,212.09 L519.55,212.06 L519.80,212.03 L520.05,212.35 L520.30,212.30 L520.55,212.23 L520.80,212.14 L521.05,211.78 L521.30,211.66 L521.55,211.51 L521.80,211.32 L522.05,211.11 L522.30,210.84 L522.55,210.50 L522.80,210.07 L523.05,208.96 L523.30,208.24 L523.55,207.28 L523.80,205.99 L524.05,204.00 L524.30,201.62 L524.55,198.43 L524.80,194.18 L525.05,188.74 L525.30,181.62 L525.55,172.72 L525.80,161.91 L526.05,149.48 L526.30,135.11 L526.55,119.59 L526.80,103.76 L527.05,88.50 L527.30,76.01 L527.55,68.05 L527.80,69.08 L528.05,78.98 L528.30,92.08 L528.55,107.31 L528.80,123.17 L529.05,138.20 L529.30,152.28 L529.55,164.64 L529.80,175.10 L530.05,183.74 L530.30,190.55 L530.55,195.85 L530.80,199.88 L531.05,202.91 L531.30,205.16 L531.55,206.82 L531.80,208.04 L532.05,209.02 L532.30,209.71 L532.55,210.24 L532.80,210.65 L533.05,210.75 L533.30,211.02 L533.55,211.24 L533.80,211.43 L534.05,211.00 L534.30,211.12 L534.55,211.23 L534.80,211.32 L535.05,212.34 L535.30,212.40 L535.55,212.45 L535.80,212.49 L536.05,212.46 L536.30,212.49 L536.55,212.51 L536.80,212.52 L537.05,212.24 L537.30,212.25 L537.55,212.26 L537.80,212.27 L538.05,212.31 L538.30,212.32 L538.55,212.32 L538.80,212.32 L539.05,212.48 L539.30,212.48 L539.55,212.48 L539.80,212.48 L540.05,211.77 L540.30,211.76 L540.55,211.76 L540.80,211.76 L541.05,212.55 L541.30,212.55 L541.55,212.53 L541.80,212.52 L542.05,211.91 L542.30,211.89 L542.55,211.85 L542.80,211.80 L543.05,211.52 L543.30,211.44 L543.55,211.32 L543.80,211.17 L544.05,211.20 L544.30,210.92 L544.55,210.57 L544.80,210.10 L545.05,210.05 L545.30,209.27 L545.55,208.28 L545.80,207.05 L546.05,204.92 L546.30,203.12 L546.55,201.02 L546.80,198.61 L547.05,196.58 L547.30,193.71 L547.55,190.75 L547.80,187.83 L548.05,185.43 L548.30,183.22 L548.55,181.76 L548.80,181.72 L549.05,182.55 L549.30,184.74 L549.55,187.41 L549.80,190.33 L550.05,193.16 L550.30,196.05 L550.55,198.73 L550.80,201.16 L551.05,203.40 L551.30,205.22 L551.55,206.74 L551.80,207.99 L552.05,209.23 L552.30,210.03 L552.55,210.65 L552.80,211.13 L553.05,211.60 L553.30,211.88 L553.55,212.09 L553.80,212.25 L554.05,212.19 L554.30,212.28 L554.55,212.35 L554.80,212.41 L555.05,212.48 L555.30,212.51 L555.55,212.54 L555.80,212.56 L556.05,211.90 L556.30,211.92 L556.55,211.93 L556.80,211.94 L557.05,212.03 L557.30,212.04 L557.55,212.04 L557.80,212.05 L558.05,212.18 L558.30,212.18 L558.55,212.19 L558.80,212.19 L559.05,212.78 L559.30,212.78 L559.55,212.79 L559.80,212.79 L560.05,212.27 L560.30,212.27 L560.55,212.28 L560.80,212.29 L561.05,212.61 L561.30,212.61 L561.55,212.62 L561.80,212.63 L562.05,211.97 L562.30,211.97 L562.55,211.98 L562.80,211.99 L563.05,212.05 L563.30,212.06 L563.55,212.06 L563.80,212.07 L564.05,212.33 L564.30,212.33 L564.55,212.34 L564.80,212.35 L565.05,212.84 L565.30,212.84 L565.55,212.85 L565.80,212.86 L566.05,212.89 L566.30,212.89 L566.55,212.90 L566.80,212.91 L567.05,212.89 L567.30,212.90 L567.55,212.90 L567.80,212.91 L568.05,212.46 L568.30,212.46 L568.55,212.47 L568.80,212.48 L569.05,212.75 L569.30,212.76 L569.55,212.77 L569.80,212.77 L570.05,212.72 L570.30,212.72 L570.55,212.73 L570.80,212.74 L571.05,212.74 L571.30,212.75 L571.55,212.76 L571.80,212.76 L572.05,212.35 L572.30,212.36 L572.55,212.36 L572.80,212.37 L573.05,213.31 L573.30,213.31 L573.55,213.32 L573.80,213.33 L574.05,212.50 L574.30,212.51 L574.55,212.51 L574.80,212.52 L575.05,213.46 L575.30,213.47 L575.55,213.47 L575.80,213.48 L576.05,213.44 L576.30,213.44 L576.55,213.45 L576.80,213.46 L577.05,212.36 L577.30,212.37 L577.55,212.37 L577.80,212.38 L578.05,212.91 L578.30,212.92 L578.55,212.93 L578.80,212.93 L579.05,213.37 L579.30,213.38 L579.55,213.39 L579.80,213.39 L580.05,213.58 L580.30,213.58 L580.55,213.59 L580.80,213.60 L581.05,212.98 L581.30,212.99 L581.55,212.99 L581.80,213.00 L582.05,212.79 L582.30,212.80 L582.55,212.80 L582.80,212.81 L583.05,212.74 L583.30,212.75 L583.55,212.76 L583.80,212.76 L584.05,213.65 L584.30,213.66 L584.55,213.67 L584.80,213.67 L585.05,212.80 L585.30,212.80 L585.55,212.81 L585.80,212.82 L586.05,213.27 L586.30,213.27 L586.55,213.28 L586.80,213.29 L587.05,212.77 L587.30,212.77 L587.55,212.78 L587.80,212.78 L588.05,213.25 L588.30,213.26 L588.55,213.26 L588.80,213.27 L589.05,213.79 L589.30,213.80 L589.55,213.80 L589.80,213.81 L590.05,212.83 L590.30,212.84 L590.55,212.84 L590.80,212.85 L591.05,213.68 L591.30,213.69 L591.55,213.70 L591.80,213.70 L592.05,213.33 L592.30,213.34 L592.55,213.35 L592.80,213.35 L593.05,213.81 L593.30,213.82 L593.55,213.83 L593.80,213.83 L594.05,213.62 L594.30,213.63 L594.55,213.63 L594.80,213.64 L595.00,219.70 Z" fill="#ff0000"/>
<line x1="328.80" y1="219.70" x2="328.80" y2="223.90" stroke="#111" stroke-width="1.3"/>
<line x1="342.11" y1="219.70" x2="342.11" y2="222.30" stroke="#111" stroke-width="1.3"/>
<line x1="355.42" y1="219.70" x2="355.42" y2="223.90" stroke="#111" stroke-width="1.3"/>
<line x1="368.73" y1="219.70" x2="368.73" y2="222.30" stroke="#111" stroke-width="1.3"/>
<line x1="382.04" y1="219.70" x2="382.04" y2="223.90" stroke="#111" stroke-width="1.3"/>
<line x1="395.35" y1="219.70" x2="395.35" y2="222.30" stroke="#111" stroke-width="1.3"/>
<line x1="408.66" y1="219.70" x2="408.66" y2="223.90" stroke="#111" stroke-width="1.3"/>
<line x1="421.97" y1="219.70" x2="421.97" y2="222.30" stroke="#111" stroke-width="1.3"/>
<line x1="435.28" y1="219.70" x2="435.28" y2="223.90" stroke="#111" stroke-width="1.3"/>
<line x1="448.59" y1="219.70" x2="448.59" y2="222.30" stroke="#111" stroke-width="1.3"/>
<line x1="461.90" y1="219.70" x2="461.90" y2="223.90" stroke="#111" stroke-width="1.3"/>
<line x1="475.21" y1="219.70" x2="475.21" y2="222.30" stroke="#111" stroke-width="1.3"/>
<line x1="488.52" y1="219.70" x2="488.52" y2="223.90" stroke="#111" stroke-width="1.3"/>
<line x1="501.83" y1="219.70" x2="501.83" y2="222.30" stroke="#111" stroke-width="1.3"/>
<line x1="515.14" y1="219.70" x2="515.14" y2="223.90" stroke="#111" stroke-width="1.3"/>
<line x1="528.45" y1="219.70" x2="528.45" y2="222.30" stroke="#111" stroke-width="1.3"/>
<line x1="541.76" y1="219.70" x2="541.76" y2="223.90" stroke="#111" stroke-width="1.3"/>
<line x1="555.07" y1="219.70" x2="555.07" y2="222.30" stroke="#111" stroke-width="1.3"/>
<line x1="568.38" y1="219.70" x2="568.38" y2="223.90" stroke="#111" stroke-width="1.3"/>
<line x1="581.69" y1="219.70" x2="581.69" y2="222.30" stroke="#111" stroke-width="1.3"/>
<line x1="595.00" y1="219.70" x2="595.00" y2="223.90" stroke="#111" stroke-width="1.3"/>
<text x="329.40" y="233.80" text-anchor="middle" class="tk">0</text>
<text x="356.02" y="233.80" text-anchor="middle" class="tk">1</text>
<text x="382.64" y="233.80" text-anchor="middle" class="tk">2</text>
<text x="409.26" y="233.80" text-anchor="middle" class="tk">3</text>
<text x="435.88" y="233.80" text-anchor="middle" class="tk">4</text>
<text x="462.50" y="233.80" text-anchor="middle" class="tk">5</text>
<text x="489.12" y="233.80" text-anchor="middle" class="tk">6</text>
<text x="515.74" y="233.80" text-anchor="middle" class="tk">7</text>
<text x="542.36" y="233.80" text-anchor="middle" class="tk">8</text>
<text x="568.98" y="233.80" text-anchor="middle" class="tk">9</text>
<text x="595.60" y="233.80" text-anchor="middle" class="tk">10</text>
<text x="430.20" y="250.70" class="xl" textLength="61.20" lengthAdjust="spacing">Energy/Kev</text>
<text transform="translate(317.80,169.80) rotate(-90)" class="yl" textLength="47.50" lengthAdjust="spacing">Intensity</text>
<text transform="translate(317.80,110.00) rotate(-90)" class="yl" textLength="37.50" lengthAdjust="spacing">counts</text>
<path d="M309.20,112.00 Q313.80,118.63 318.40,112.00" fill="none" stroke="#111" stroke-width="1.05"/>
<path d="M309.20,69.30 Q313.80,62.47 318.40,69.30" fill="none" stroke="#111" stroke-width="1.05"/>
<text x="332.60" y="18.40" class="pl">(f)</text>
<text x="511.80" y="20.30" class="tt" textLength="75.80" lengthAdjust="spacing">NAS-1.1m/s</text>
<text x="526.00" y="38.60" class="tt" textLength="43.40" lengthAdjust="spacing">Area F</text>
<path d="M524.40,27.10 Q520.60,33.50 524.40,39.90" fill="none" stroke="#000" stroke-width="1.15"/>
<path d="M574.20,27.10 Q578.00,33.50 574.20,39.90" fill="none" stroke="#000" stroke-width="1.15"/>
<text x="342.30" y="194.10" text-anchor="middle" class="pk">O</text>
<text x="351.40" y="54.60" text-anchor="middle" class="pk">Ni</text>
<text x="368.70" y="146.70" text-anchor="middle" class="pk">Al</text>
<text x="409.00" y="191.10" text-anchor="middle" class="pk">Ag</text>
<text x="528.30" y="63.90" text-anchor="middle" class="pk">Ni</text>
<text x="549.20" y="176.60" text-anchor="middle" class="pk">Ni</text>
<rect x="175.00" y="262.50" width="266.90" height="217.20" fill="none" stroke="#111" stroke-width="1.5"/>
<path d="M175.00,479.70 L175.00,472.63 L175.25,472.59 L175.50,472.55 L175.75,472.51 L176.00,472.45 L176.25,472.41 L176.50,472.36 L176.75,472.31 L177.00,472.84 L177.25,472.77 L177.50,472.70 L177.75,472.61 L178.00,472.45 L178.25,472.31 L178.50,472.15 L178.75,471.96 L179.00,471.55 L179.25,471.29 L179.50,470.98 L179.75,470.63 L180.00,470.05 L180.25,469.63 L180.50,469.19 L180.75,468.74 L181.00,468.54 L181.25,468.11 L181.50,467.71 L181.75,467.35 L182.00,467.03 L182.25,466.80 L182.50,466.64 L182.75,466.56 L183.00,467.18 L183.25,467.22 L183.50,467.29 L183.75,467.37 L184.00,466.41 L184.25,466.39 L184.50,466.24 L184.75,465.90 L185.00,466.20 L185.25,465.26 L185.50,463.90 L185.75,462.04 L186.00,459.72 L186.25,456.71 L186.50,453.09 L186.75,448.91 L187.00,443.40 L187.25,438.45 L187.50,433.44 L187.75,428.61 L188.00,425.23 L188.25,421.66 L188.50,419.11 L188.75,417.78 L189.00,417.50 L189.25,418.79 L189.50,421.29 L189.75,424.83 L190.00,429.39 L190.25,434.21 L190.50,439.24 L190.75,444.21 L191.00,448.16 L191.25,452.40 L191.50,456.07 L191.75,459.13 L192.00,461.68 L192.25,463.53 L192.50,464.84 L192.75,465.67 L193.00,466.09 L193.25,466.10 L193.50,465.78 L193.75,465.13 L194.00,464.93 L194.25,463.71 L194.50,462.24 L194.75,460.53 L195.00,458.11 L195.25,455.94 L195.50,453.29 L195.75,449.28 L196.00,441.69 L196.25,428.40 L196.50,407.77 L196.75,382.07 L197.00,357.32 L197.25,339.55 L197.50,331.46 L197.75,330.46 L198.00,334.27 L198.25,347.33 L198.50,369.35 L198.75,395.53 L199.00,419.00 L199.25,435.97 L199.50,445.97 L199.75,451.36 L200.00,454.65 L200.25,457.09 L200.50,459.22 L200.75,461.15 L201.00,463.76 L201.25,465.28 L201.50,466.58 L201.75,467.67 L202.00,467.92 L202.25,468.61 L202.50,469.15 L202.75,469.57 L203.00,470.65 L203.25,470.88 L203.50,471.03 L203.75,471.13 L204.00,470.37 L204.25,470.40 L204.50,470.41 L204.75,470.40 L205.00,470.40 L205.25,470.37 L205.50,470.34 L205.75,470.31 L206.00,470.57 L206.25,470.53 L206.50,470.49 L206.75,470.45 L207.00,470.02 L207.25,469.97 L207.50,469.93 L207.75,469.88 L208.00,470.05 L208.25,469.99 L208.50,469.93 L208.75,469.86 L209.00,470.49 L209.25,470.40 L209.50,470.30 L209.75,470.18 L210.00,469.96 L210.25,469.81 L210.50,469.63 L210.75,469.41 L211.00,469.08 L211.25,468.78 L211.50,468.41 L211.75,467.95 L212.00,467.11 L212.25,466.29 L212.50,465.12 L212.75,463.46 L213.00,461.47 L213.25,458.28 L213.50,454.06 L213.75,448.76 L214.00,442.58 L214.25,435.96 L214.50,429.93 L214.75,426.28 L215.00,428.68 L215.25,434.46 L215.50,441.02 L215.75,447.28 L216.00,452.88 L216.25,457.20 L216.50,460.49 L216.75,462.88 L217.00,463.77 L217.25,464.95 L217.50,465.77 L217.75,466.35 L218.00,467.58 L218.25,467.90 L218.50,468.14 L218.75,468.33 L219.00,468.14 L219.25,468.26 L219.50,468.36 L219.75,468.43 L220.00,468.84 L220.25,468.88 L220.50,468.91 L220.75,468.92 L221.00,468.79 L221.25,468.79 L221.50,468.78 L221.75,468.77 L222.00,468.32 L222.25,468.31 L222.50,468.28 L222.75,468.26 L223.00,467.95 L223.25,467.93 L223.50,467.91 L223.75,467.88 L224.00,468.91 L224.25,468.89 L224.50,468.86 L224.75,468.84 L225.00,467.85 L225.25,467.83 L225.50,467.80 L225.75,467.78 L226.00,468.17 L226.25,468.14 L226.50,468.12 L226.75,468.09 L227.00,467.91 L227.25,467.89 L227.50,467.86 L227.75,467.84 L228.00,467.76 L228.25,467.73 L228.50,467.71 L228.75,467.68 L229.00,468.19 L229.25,468.16 L229.50,468.14 L229.75,468.11 L230.00,468.37 L230.25,468.36 L230.50,468.34 L230.75,468.33 L231.00,467.45 L231.25,467.44 L231.50,467.42 L231.75,467.41 L232.00,467.87 L232.25,467.85 L232.50,467.84 L232.75,467.82 L233.00,467.38 L233.25,467.37 L233.50,467.35 L233.75,467.34 L234.00,467.63 L234.25,467.61 L234.50,467.60 L234.75,467.58 L235.00,467.37 L235.25,467.36 L235.50,467.34 L235.75,467.33 L236.00,467.04 L236.25,467.03 L236.50,467.01 L236.75,467.00 L237.00,466.97 L237.25,466.96 L237.50,466.94 L237.75,466.93 L238.00,466.97 L238.25,466.95 L238.50,466.94 L238.75,466.92 L239.00,467.75 L239.25,467.73 L239.50,467.72 L239.75,467.70 L240.00,467.20 L240.25,467.18 L240.50,467.17 L240.75,467.15 L241.00,466.80 L241.25,466.79 L241.50,466.77 L241.75,466.76 L242.00,467.56 L242.25,467.55 L242.50,467.53 L242.75,467.51 L243.00,467.60 L243.25,467.58 L243.50,467.56 L243.75,467.54 L244.00,466.86 L244.25,466.83 L244.50,466.80 L244.75,466.77 L245.00,466.36 L245.25,466.35 L245.50,466.33 L245.75,466.30 L246.00,466.33 L246.25,466.28 L246.50,466.21 L246.75,466.13 L247.00,465.90 L247.25,465.76 L247.50,465.60 L247.75,465.39 L248.00,465.44 L248.25,465.13 L248.50,464.75 L248.75,464.30 L249.00,463.45 L249.25,462.80 L249.50,462.02 L249.75,461.11 L250.00,460.21 L250.25,458.96 L250.50,457.51 L250.75,455.85 L251.00,453.99 L251.25,451.85 L251.50,449.47 L251.75,446.83 L252.00,444.32 L252.25,441.21 L252.50,437.91 L252.75,434.44 L253.00,431.27 L253.25,427.71 L253.50,424.24 L253.75,421.00 L254.00,417.98 L254.25,415.73 L254.50,414.45 L254.75,415.27 L255.00,416.92 L255.25,419.65 L255.50,422.84 L255.75,426.29 L256.00,429.87 L256.25,433.47 L256.50,437.00 L256.75,440.39 L257.00,443.73 L257.25,446.71 L257.50,449.45 L257.75,451.94 L258.00,454.01 L258.25,456.00 L258.50,457.76 L258.75,459.30 L259.00,460.59 L259.25,461.75 L259.50,462.74 L259.75,463.59 L260.00,463.98 L260.25,464.59 L260.50,465.10 L260.75,465.53 L261.00,466.16 L261.25,466.46 L261.50,466.71 L261.75,466.92 L262.00,467.93 L262.25,468.08 L262.50,468.20 L262.75,468.31 L263.00,467.38 L263.25,467.46 L263.50,467.52 L263.75,467.58 L264.00,468.08 L264.25,468.12 L264.50,468.16 L264.75,468.19 L265.00,468.37 L265.25,468.40 L265.50,468.42 L265.75,468.45 L266.00,468.75 L266.25,468.77 L266.50,468.79 L266.75,468.81 L267.00,468.05 L267.25,468.07 L267.50,468.09 L267.75,468.10 L268.00,468.19 L268.25,468.20 L268.50,468.22 L268.75,468.24 L269.00,468.23 L269.25,468.25 L269.50,468.26 L269.75,468.28 L270.00,468.48 L270.25,468.50 L270.50,468.51 L270.75,468.53 L271.00,468.60 L271.25,468.62 L271.50,468.64 L271.75,468.66 L272.00,469.28 L272.25,469.30 L272.50,469.32 L272.75,469.34 L273.00,469.23 L273.25,469.25 L273.50,469.26 L273.75,469.28 L274.00,469.33 L274.25,469.34 L274.50,469.36 L274.75,469.38 L275.00,468.38 L275.25,468.39 L275.50,468.41 L275.75,468.43 L276.00,468.46 L276.25,468.48 L276.50,468.49 L276.75,468.51 L277.00,469.34 L277.25,469.36 L277.50,469.38 L277.75,469.39 L278.00,469.63 L278.25,469.65 L278.50,469.67 L278.75,469.69 L279.00,469.20 L279.25,469.22 L279.50,469.23 L279.75,469.25 L280.00,469.40 L280.25,469.42 L280.50,469.44 L280.75,469.46 L281.00,468.77 L281.25,468.79 L281.50,468.81 L281.75,468.82 L282.00,469.31 L282.25,469.33 L282.50,469.34 L282.75,469.36 L283.00,470.02 L283.25,470.04 L283.50,470.06 L283.75,470.07 L284.00,469.97 L284.25,469.99 L284.50,470.01 L284.75,470.02 L285.00,470.08 L285.25,470.09 L285.50,470.11 L285.75,470.13 L286.00,470.29 L286.25,470.30 L286.50,470.32 L286.75,470.34 L287.00,469.49 L287.25,469.51 L287.50,469.52 L287.75,469.54 L288.00,469.39 L288.25,469.41 L288.50,469.43 L288.75,469.44 L289.00,469.52 L289.25,469.53 L289.50,469.55 L289.75,469.57 L290.00,470.03 L290.25,470.04 L290.50,470.06 L290.75,470.08 L291.00,470.29 L291.25,470.31 L291.50,470.32 L291.75,470.34 L292.00,470.67 L292.25,470.69 L292.50,470.70 L292.75,470.72 L293.00,470.48 L293.25,470.49 L293.50,470.51 L293.75,470.53 L294.00,470.46 L294.25,470.47 L294.50,470.49 L294.75,470.51 L295.00,470.67 L295.25,470.69 L295.50,470.70 L295.75,470.72 L296.00,470.37 L296.25,470.39 L296.50,470.40 L296.75,470.42 L297.00,470.55 L297.25,470.57 L297.50,470.59 L297.75,470.60 L298.00,470.01 L298.25,470.02 L298.50,470.04 L298.75,470.06 L299.00,470.97 L299.25,470.99 L299.50,471.00 L299.75,471.02 L300.00,470.38 L300.25,470.38 L300.50,470.38 L300.75,470.38 L301.00,471.21 L301.25,471.21 L301.50,471.21 L301.75,471.21 L302.00,470.88 L302.25,470.88 L302.50,470.88 L302.75,470.88 L303.00,470.47 L303.25,470.48 L303.50,470.48 L303.75,470.48 L304.00,470.27 L304.25,470.27 L304.50,470.27 L304.75,470.27 L305.00,470.42 L305.25,470.42 L305.50,470.42 L305.75,470.42 L306.00,470.88 L306.25,470.88 L306.50,470.89 L306.75,470.89 L307.00,470.96 L307.25,470.96 L307.50,470.96 L307.75,470.96 L308.00,470.26 L308.25,470.26 L308.50,470.26 L308.75,470.26 L309.00,470.21 L309.25,470.22 L309.50,470.22 L309.75,470.22 L310.00,470.76 L310.25,470.76 L310.50,470.76 L310.75,470.77 L311.00,470.84 L311.25,470.84 L311.50,470.84 L311.75,470.84 L312.00,470.61 L312.25,470.61 L312.50,470.61 L312.75,470.61 L313.00,470.41 L313.25,470.41 L313.50,470.41 L313.75,470.41 L314.00,470.87 L314.25,470.87 L314.50,470.87 L314.75,470.87 L315.00,470.16 L315.25,470.16 L315.50,470.16 L315.75,470.17 L316.00,470.52 L316.25,470.52 L316.50,470.52 L316.75,470.52 L317.00,470.71 L317.25,470.71 L317.50,470.71 L317.75,470.71 L318.00,471.31 L318.25,471.31 L318.50,471.31 L318.75,471.31 L319.00,470.94 L319.25,470.94 L319.50,470.94 L319.75,470.94 L320.00,471.23 L320.25,471.23 L320.50,471.23 L320.75,471.23 L321.00,470.74 L321.25,470.74 L321.50,470.74 L321.75,470.74 L322.00,470.46 L322.25,470.46 L322.50,470.46 L322.75,470.46 L323.00,470.47 L323.25,470.47 L323.50,470.47 L323.75,470.48 L324.00,471.33 L324.25,471.33 L324.50,471.33 L324.75,471.34 L325.00,471.03 L325.25,471.03 L325.50,471.03 L325.75,471.03 L326.00,470.56 L326.25,470.56 L326.50,470.56 L326.75,470.56 L327.00,470.22 L327.25,470.22 L327.50,470.22 L327.75,470.22 L328.00,470.79 L328.25,470.79 L328.50,470.79 L328.75,470.79 L329.00,471.01 L329.25,471.01 L329.50,471.01 L329.75,471.01 L330.00,470.70 L330.25,470.65 L330.50,470.59 L330.75,470.54 L331.00,470.28 L331.25,470.23 L331.50,470.17 L331.75,470.11 L332.00,470.55 L332.25,470.49 L332.50,470.44 L332.75,470.38 L333.00,470.64 L333.25,470.58 L333.50,470.52 L333.75,470.47 L334.00,469.57 L334.25,469.68 L334.50,469.78 L334.75,469.89 L335.00,469.77 L335.25,469.87 L335.50,469.98 L335.75,470.08 L336.00,470.56 L336.25,470.66 L336.50,470.77 L336.75,470.87 L337.00,471.08 L337.25,471.19 L337.50,471.29 L337.75,471.40 L338.00,471.82 L338.25,471.82 L338.50,471.83 L338.75,471.83 L339.00,471.26 L339.25,471.26 L339.50,471.27 L339.75,471.27 L340.00,471.99 L340.25,472.00 L340.50,472.00 L340.75,472.01 L341.00,471.94 L341.25,471.95 L341.50,471.95 L341.75,471.96 L342.00,471.68 L342.25,471.69 L342.50,471.69 L342.75,471.69 L343.00,471.34 L343.25,471.34 L343.50,471.35 L343.75,471.35 L344.00,472.28 L344.25,472.28 L344.50,472.29 L344.75,472.29 L345.00,471.51 L345.25,471.51 L345.50,471.51 L345.75,471.52 L346.00,472.13 L346.25,472.14 L346.50,472.14 L346.75,472.15 L347.00,471.45 L347.25,471.45 L347.50,471.46 L347.75,471.46 L348.00,471.45 L348.25,471.46 L348.50,471.46 L348.75,471.47 L349.00,472.12 L349.25,472.12 L349.50,472.13 L349.75,472.13 L350.00,471.58 L350.25,471.58 L350.50,471.59 L350.75,471.59 L351.00,472.39 L351.25,472.39 L351.50,472.40 L351.75,472.40 L352.00,471.86 L352.25,471.86 L352.50,471.87 L352.75,471.87 L353.00,471.51 L353.25,471.51 L353.50,471.52 L353.75,471.52 L354.00,471.57 L354.25,471.57 L354.50,471.58 L354.75,471.58 L355.00,471.82 L355.25,471.82 L355.50,471.83 L355.75,471.83 L356.00,472.14 L356.25,472.14 L356.50,472.15 L356.75,472.15 L357.00,472.49 L357.25,472.50 L357.50,472.50 L357.75,472.51 L358.00,471.55 L358.25,471.56 L358.50,471.56 L358.75,471.56 L359.00,471.87 L359.25,471.87 L359.50,471.88 L359.75,471.88 L360.00,471.67 L360.25,471.67 L360.50,471.68 L360.75,471.68 L361.00,472.60 L361.25,472.60 L361.50,472.61 L361.75,472.61 L362.00,471.62 L362.25,471.62 L362.50,471.63 L362.75,471.63 L363.00,471.53 L363.25,471.53 L363.50,471.53 L363.75,471.53 L364.00,471.55 L364.25,471.55 L364.50,471.54 L364.75,471.54 L365.00,471.94 L365.25,471.93 L365.50,471.92 L365.75,471.90 L366.00,472.49 L366.25,472.47 L366.50,472.44 L366.75,472.40 L367.00,472.33 L367.25,472.28 L367.50,472.21 L367.75,472.12 L368.00,471.83 L368.25,471.70 L368.50,471.54 L368.75,471.33 L369.00,471.39 L369.25,471.05 L369.50,470.61 L369.75,470.03 L370.00,469.17 L370.25,468.14 L370.50,466.76 L370.75,464.94 L371.00,461.85 L371.25,458.78 L371.50,454.87 L371.75,450.00 L372.00,443.87 L372.25,436.74 L372.50,428.45 L372.75,419.09 L373.00,409.76 L373.25,399.05 L373.50,388.39 L373.75,378.50 L374.00,370.06 L374.25,364.70 L374.50,364.72 L374.75,370.11 L375.00,377.49 L375.25,387.39 L375.50,398.06 L375.75,408.77 L376.00,419.76 L376.25,429.13 L376.50,437.42 L376.75,444.54 L377.00,450.16 L377.25,455.03 L377.50,458.94 L377.75,462.01 L378.00,464.38 L378.25,466.20 L378.50,467.58 L378.75,468.62 L379.00,469.35 L379.25,469.95 L379.50,470.39 L379.75,470.74 L380.00,470.81 L380.25,471.03 L380.50,471.20 L380.75,471.34 L381.00,471.25 L381.25,471.35 L381.50,471.42 L381.75,471.49 L382.00,471.88 L382.25,471.92 L382.50,471.96 L382.75,471.99 L383.00,472.11 L383.25,472.13 L383.50,472.15 L383.75,472.16 L384.00,472.90 L384.25,472.91 L384.50,472.92 L384.75,472.93 L385.00,471.94 L385.25,471.94 L385.50,471.95 L385.75,471.95 L386.00,472.96 L386.25,472.97 L386.50,472.97 L386.75,472.97 L387.00,472.06 L387.25,472.06 L387.50,472.06 L387.75,472.06 L388.00,472.23 L388.25,472.23 L388.50,472.22 L388.75,472.21 L389.00,472.76 L389.25,472.74 L389.50,472.72 L389.75,472.68 L390.00,472.64 L390.25,472.59 L390.50,472.51 L390.75,472.42 L391.00,471.82 L391.25,471.66 L391.50,471.44 L391.75,471.17 L392.00,470.36 L392.25,469.93 L392.50,469.40 L392.75,468.76 L393.00,468.51 L393.25,467.64 L393.50,466.65 L393.75,465.55 L394.00,464.26 L394.25,463.05 L394.50,461.85 L394.75,460.74 L395.00,460.44 L395.25,459.76 L395.50,459.52 L395.75,459.95 L396.00,459.87 L396.25,460.89 L396.50,462.05 L396.75,463.26 L397.00,464.68 L397.25,465.83 L397.50,466.90 L397.75,467.87 L398.00,469.35 L398.25,470.07 L398.50,470.68 L398.75,471.18 L399.00,470.55 L399.25,470.88 L399.50,471.14 L399.75,471.35 L400.00,471.96 L400.25,472.09 L400.50,472.18 L400.75,472.26 L401.00,472.80 L401.25,472.85 L401.50,472.88 L401.75,472.91 L402.00,472.88 L402.25,472.90 L402.50,472.92 L402.75,472.93 L403.00,472.08 L403.25,472.09 L403.50,472.10 L403.75,472.11 L404.00,472.11 L404.25,472.11 L404.50,472.12 L404.75,472.13 L405.00,472.17 L405.25,472.17 L405.50,472.18 L405.75,472.18 L406.00,473.22 L406.25,473.22 L406.50,473.23 L406.75,473.23 L407.00,472.44 L407.25,472.45 L407.50,472.45 L407.75,472.46 L408.00,473.05 L408.25,473.05 L408.50,473.06 L408.75,473.06 L409.00,473.25 L409.25,473.25 L409.50,473.26 L409.75,473.26 L410.00,472.60 L410.25,472.60 L410.50,472.61 L410.75,472.61 L411.00,472.54 L411.25,472.54 L411.50,472.55 L411.75,472.55 L412.00,473.38 L412.25,473.38 L412.50,473.39 L412.75,473.39 L413.00,472.99 L413.25,472.99 L413.50,473.00 L413.75,473.00 L414.00,472.58 L414.25,472.59 L414.50,472.59 L414.75,472.60 L415.00,473.15 L415.25,473.15 L415.50,473.16 L415.75,473.16 L416.00,472.69 L416.25,472.69 L416.50,472.69 L416.75,472.70 L417.00,472.66 L417.25,472.66 L417.50,472.66 L417.75,472.67 L418.00,472.35 L418.25,472.35 L418.50,472.36 L418.75,472.36 L419.00,473.27 L419.25,473.27 L419.50,473.28 L419.75,473.28 L420.00,473.48 L420.25,473.49 L420.50,473.49 L420.75,473.50 L421.00,473.16 L421.25,473.17 L421.50,473.17 L421.75,473.18 L422.00,473.55 L422.25,473.56 L422.50,473.56 L422.75,473.57 L423.00,472.47 L423.25,472.47 L423.50,472.48 L423.75,472.48 L424.00,472.74 L424.25,472.74 L424.50,472.75 L424.75,472.75 L425.00,473.05 L425.25,473.05 L425.50,473.06 L425.75,473.06 L426.00,473.64 L426.25,473.65 L426.50,473.65 L426.75,473.66 L427.00,473.66 L427.25,473.66 L427.50,473.67 L427.75,473.67 L428.00,473.00 L428.25,473.00 L428.50,473.01 L428.75,473.01 L429.00,472.85 L429.25,472.86 L429.50,472.86 L429.75,472.87 L430.00,473.09 L430.25,473.09 L430.50,473.10 L430.75,473.10 L431.00,473.18 L431.25,473.19 L431.50,473.19 L431.75,473.20 L432.00,473.72 L432.25,473.73 L432.50,473.73 L432.75,473.74 L433.00,472.85 L433.25,472.85 L433.50,472.86 L433.75,472.86 L434.00,473.61 L434.25,473.62 L434.50,473.62 L434.75,473.63 L435.00,473.55 L435.25,473.56 L435.50,473.56 L435.75,473.57 L436.00,473.67 L436.25,473.68 L436.50,473.68 L436.75,473.69 L437.00,473.63 L437.25,473.64 L437.50,473.64 L437.75,473.65 L438.00,473.45 L438.25,473.46 L438.50,473.46 L438.75,473.47 L439.00,473.14 L439.25,473.14 L439.50,473.15 L439.75,473.15 L440.00,473.15 L440.25,473.15 L440.50,473.16 L440.75,473.16 L441.00,473.22 L441.25,473.22 L441.50,473.23 L441.75,473.23 L441.90,479.70 Z" fill="#ff0000"/>
<line x1="175.00" y1="479.70" x2="175.00" y2="483.90" stroke="#111" stroke-width="1.3"/>
<line x1="188.34" y1="479.70" x2="188.34" y2="482.30" stroke="#111" stroke-width="1.3"/>
<line x1="201.69" y1="479.70" x2="201.69" y2="483.90" stroke="#111" stroke-width="1.3"/>
<line x1="215.03" y1="479.70" x2="215.03" y2="482.30" stroke="#111" stroke-width="1.3"/>
<line x1="228.38" y1="479.70" x2="228.38" y2="483.90" stroke="#111" stroke-width="1.3"/>
<line x1="241.72" y1="479.70" x2="241.72" y2="482.30" stroke="#111" stroke-width="1.3"/>
<line x1="255.07" y1="479.70" x2="255.07" y2="483.90" stroke="#111" stroke-width="1.3"/>
<line x1="268.41" y1="479.70" x2="268.41" y2="482.30" stroke="#111" stroke-width="1.3"/>
<line x1="281.76" y1="479.70" x2="281.76" y2="483.90" stroke="#111" stroke-width="1.3"/>
<line x1="295.11" y1="479.70" x2="295.11" y2="482.30" stroke="#111" stroke-width="1.3"/>
<line x1="308.45" y1="479.70" x2="308.45" y2="483.90" stroke="#111" stroke-width="1.3"/>
<line x1="321.79" y1="479.70" x2="321.79" y2="482.30" stroke="#111" stroke-width="1.3"/>
<line x1="335.14" y1="479.70" x2="335.14" y2="483.90" stroke="#111" stroke-width="1.3"/>
<line x1="348.49" y1="479.70" x2="348.49" y2="482.30" stroke="#111" stroke-width="1.3"/>
<line x1="361.83" y1="479.70" x2="361.83" y2="483.90" stroke="#111" stroke-width="1.3"/>
<line x1="375.17" y1="479.70" x2="375.17" y2="482.30" stroke="#111" stroke-width="1.3"/>
<line x1="388.52" y1="479.70" x2="388.52" y2="483.90" stroke="#111" stroke-width="1.3"/>
<line x1="401.87" y1="479.70" x2="401.87" y2="482.30" stroke="#111" stroke-width="1.3"/>
<line x1="415.21" y1="479.70" x2="415.21" y2="483.90" stroke="#111" stroke-width="1.3"/>
<line x1="428.55" y1="479.70" x2="428.55" y2="482.30" stroke="#111" stroke-width="1.3"/>
<line x1="441.90" y1="479.70" x2="441.90" y2="483.90" stroke="#111" stroke-width="1.3"/>
<text x="175.60" y="493.90" text-anchor="middle" class="tk">0</text>
<text x="202.29" y="493.90" text-anchor="middle" class="tk">1</text>
<text x="228.98" y="493.90" text-anchor="middle" class="tk">2</text>
<text x="255.67" y="493.90" text-anchor="middle" class="tk">3</text>
<text x="282.36" y="493.90" text-anchor="middle" class="tk">4</text>
<text x="309.05" y="493.90" text-anchor="middle" class="tk">5</text>
<text x="335.74" y="493.90" text-anchor="middle" class="tk">6</text>
<text x="362.43" y="493.90" text-anchor="middle" class="tk">7</text>
<text x="389.12" y="493.90" text-anchor="middle" class="tk">8</text>
<text x="415.81" y="493.90" text-anchor="middle" class="tk">9</text>
<text x="442.50" y="493.90" text-anchor="middle" class="tk">10</text>
<text x="276.70" y="510.60" class="xl" textLength="61.30" lengthAdjust="spacing">Energy/Kev</text>
<text transform="translate(163.30,430.20) rotate(-90)" class="yl" textLength="47.80" lengthAdjust="spacing">Intensity</text>
<text transform="translate(163.30,370.20) rotate(-90)" class="yl" textLength="37.70" lengthAdjust="spacing">counts</text>
<path d="M154.70,372.20 Q159.30,378.83 163.90,372.20" fill="none" stroke="#111" stroke-width="1.05"/>
<path d="M154.70,329.70 Q159.30,322.88 163.90,329.70" fill="none" stroke="#111" stroke-width="1.05"/>
<text x="180.40" y="278.90" class="pl">(g)</text>
<text x="360.60" y="280.10" class="tt" textLength="74.20" lengthAdjust="spacing">NAL-1.1m/s</text>
<text x="374.80" y="297.50" class="tt" textLength="45.90" lengthAdjust="spacing">Area G</text>
<path d="M372.10,286.40 Q368.30,292.90 372.10,299.40" fill="none" stroke="#000" stroke-width="1.15"/>
<path d="M422.60,286.40 Q426.40,292.90 422.60,299.40" fill="none" stroke="#000" stroke-width="1.15"/>
<text x="189.30" y="413.60" text-anchor="middle" class="pk">O</text>
<text x="198.20" y="326.70" text-anchor="middle" class="pk">Ni</text>
<text x="214.60" y="422.00" text-anchor="middle" class="pk">Al</text>
<text x="255.30" y="408.90" text-anchor="middle" class="pk">Ag</text>
<text x="374.60" y="359.60" text-anchor="middle" class="pk">Ni</text>
<text x="395.50" y="455.90" text-anchor="middle" class="pk">Ni</text>
</svg>
</body></html>
